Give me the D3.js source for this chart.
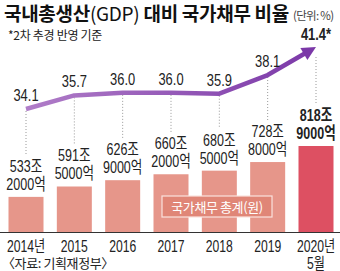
<html>
<head>
<meta charset="utf-8">
<script src="https://d3js.org/d3.v7.min.js"></script>
<style>
  body { margin: 0; background: #fff; }
  text { font-family: "Liberation Sans", "Noto Sans CJK KR", sans-serif; }
</style>
</head>
<body>
<svg id="chart" width="340" height="271"></svg>
<script>
const years = ["2014", "2015", "2016", "2017", "2018", "2019", "2020"];
const yearLabels = [["2014년"], ["2015"], ["2016"], ["2017"], ["2018"], ["2019"], ["2020년", "5월"]];
const debt = [533.2, 591.5, 626.9, 660.2, 680.5, 728.8, 818.9];
const debtLabels = [["533조", "2000억"], ["591조", "5000억"], ["626조", "9000억"], ["660조", "2000억"],
                    ["680조", "5000억"], ["728조", "8000억"], ["818조", "9000억"]];
const ratio = [34.1, 35.7, 36.0, 36.0, 35.9, 38.1, 41.4];
const ratioLabels = ["34.1", "35.7", "36.0", "36.0", "35.9", "38.1", "41.4*"];

const svg = d3.select("#chart");
const baseY = 232;
const barW = 35;
const squeeze = 0.76;

const x = d3.scalePoint().domain(years).range([26, 316]);
const yBar = d3.scaleLinear().domain([336, 818.9]).range([baseY, 146]);
const yPct = d3.scaleLinear().domain([34.1, 41.4]).range([109, 47]);

// condensed text, centered on (cx, cy)
function ctext(cx, cy, str, size, bold) {
    return svg.append("text")
        .attr("transform", `translate(${cx},${cy}) scale(${squeeze},1)`)
        .attr("text-anchor", "middle").attr("font-size", size)
        .attr("font-weight", bold ? "bold" : "normal")
        .attr("fill", "#222").text(str);
}

// title
const title = svg.append("text").attr("x", 4).attr("y", 21)
    .attr("font-size", 19).attr("font-weight", "bold").attr("fill", "#111")
    .style("font-family", "'Noto Sans CJK KR'").attr("letter-spacing", -0.3);
title.append("tspan").text("국내총생산");
title.append("tspan").attr("font-weight", "normal").text("(GDP)");
title.append("tspan").text(" 대비 국가채무 비율");
svg.append("text").attr("x", 293).attr("y", 20).attr("font-size", 11.5).attr("fill", "#444")
    .style("font-family", "'Noto Sans CJK KR'").attr("letter-spacing", -0.7).text("(단위: %)");
svg.append("text").attr("x", 8).attr("y", 40).attr("font-size", 12).attr("fill", "#222")
    .style("font-family", "'Noto Sans CJK KR'").attr("letter-spacing", -0.3).text("*2차 추경 반영 기준");

// bars
svg.selectAll("rect.bar").data(years).join("rect").attr("class", "bar")
    .attr("x", d => x(d) - barW / 2)
    .attr("y", (d, i) => yBar(debt[i]))
    .attr("width", barW)
    .attr("height", (d, i) => baseY - yBar(debt[i]))
    .attr("fill", (d, i) => i == 6 ? "#dd5062" : "#e6968a");

// dotted guides
svg.selectAll("line.guide").data(years).join("line").attr("class", "guide")
    .attr("x1", d => x(d)).attr("x2", d => x(d))
    .attr("y1", (d, i) => yPct(ratio[i]) + (i == 6 ? 10 : 2))
    .attr("y2", (d, i) => yBar(debt[i]) - 42)
    .attr("stroke", "#999").attr("stroke-width", 1).attr("stroke-dasharray", "1,2");

// debt labels
years.forEach((d, i) => {
    debtLabels[i].forEach((s, j) => {
        ctext(x(d), yBar(debt[i]) - 25 + j * 18, s, 16.5, i == 6);
    });
});

// legend box
svg.append("rect").attr("x", 162).attr("y", 196).attr("width", 110).attr("height", 21)
    .attr("fill", "#e08677").attr("stroke", "#fbe3de").attr("stroke-width", 1.2);
svg.append("text").attr("x", 217).attr("y", 211.5).attr("text-anchor", "middle")
    .attr("font-size", 13).attr("fill", "#fff").style("font-family", "'Noto Sans CJK KR'")
    .attr("letter-spacing", -0.4).text("국가채무 총계(원)");

// ratio line
const grad = svg.append("defs").append("linearGradient").attr("id", "lg")
    .attr("gradientUnits", "userSpaceOnUse").attr("x1", 26).attr("x2", 316).attr("y1", 0).attr("y2", 0);
grad.append("stop").attr("offset", 0).attr("stop-color", "#b07dc8");
grad.append("stop").attr("offset", 1).attr("stop-color", "#7b38a8");

const pts = years.map((d, i) => [x(d), yPct(ratio[i])]);
// stop the shaft short so the arrow head makes the tip
const last = pts[6], prev = pts[5];
const ang = Math.atan2(last[1] - prev[1], last[0] - prev[0]);
const headL = 14, headW = 7;
const shaftEnd = [last[0] - Math.cos(ang) * (headL - 2), last[1] - Math.sin(ang) * (headL - 2)];
const linePts = pts.slice(0, 6).concat([shaftEnd]);

svg.append("path").attr("d", d3.line()(linePts)).attr("fill", "none")
    .attr("stroke", "url(#lg)").attr("stroke-width", 4.5).attr("stroke-linejoin", "round");

const bx = last[0] - Math.cos(ang) * headL, by = last[1] - Math.sin(ang) * headL;
const nx = -Math.sin(ang) * headW, ny = Math.cos(ang) * headW;
svg.append("path")
    .attr("d", d3.line()([last, [bx + nx, by + ny], [bx - nx, by - ny]]) + "Z")
    .attr("fill", "#7b38a8");

// ratio labels
years.forEach((d, i) => {
    ctext(x(d), yPct(ratio[i]) - (i == 6 ? 7 : 8), ratioLabels[i], 17, i == 6);
});

// axis
svg.append("line").attr("x1", 0).attr("x2", 340).attr("y1", baseY + 0.5).attr("y2", baseY + 0.5)
    .attr("stroke", "#333").attr("stroke-width", 1);

years.forEach((d, i) => {
    yearLabels[i].forEach((s, j) => {
        ctext(x(d), 252 + j * 16.5, s, 16, false);
    });
});

svg.append("text").attr("x", 2).attr("y", 268).attr("font-size", 13).attr("fill", "#222")
    .attr("letter-spacing", -0.4).style("font-family", "'Noto Sans CJK KR'").text("〈자료: 기획재정부〉");
</script>
</body>
</html>
